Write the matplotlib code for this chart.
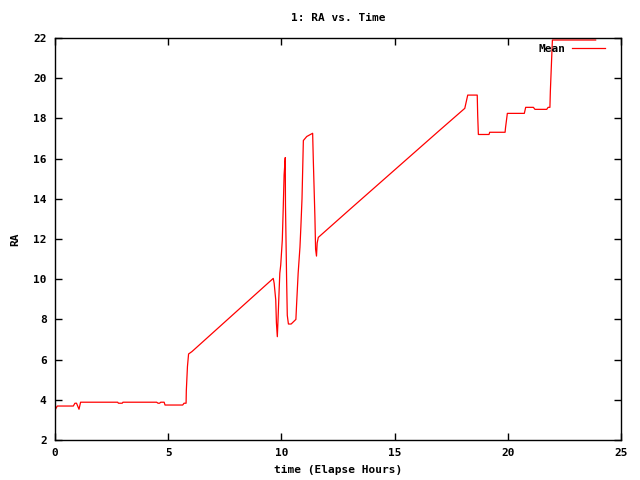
import matplotlib
matplotlib.use("Agg")
import matplotlib.pyplot as plt

# RA (hours) vs elapsed time (hours)
time_h = [0.0, 0.1, 0.81, 0.88, 0.95, 1.06, 1.13, 2.77, 2.8, 2.97, 3.0, 4.49, 4.55, 4.62,
          4.67, 4.82, 4.86, 5.64, 5.7, 5.79, 5.80, 5.85, 5.9, 6.05, 9.64, 9.68, 9.75, 9.78,
          9.82, 9.85, 9.9, 9.93, 9.97, 10.04, 10.08, 10.12, 10.17, 10.18, 10.23, 10.26, 10.31,
          10.43, 10.64, 10.67, 10.74, 10.82, 10.86, 10.91, 10.95, 10.97, 11.12, 11.38, 11.41,
          11.48, 11.51, 11.55, 11.58, 11.63, 13.03, 17.0, 18.1, 18.23, 18.65, 18.67, 18.7,
          19.17, 19.2, 19.88, 19.9, 19.98, 20.73, 20.79, 21.13, 21.2, 21.72, 21.78, 21.86,
          21.88, 21.94, 21.97, 23.88]
ra_mean = [3.49, 3.69, 3.69, 3.83, 3.83, 3.53, 3.88, 3.88, 3.83, 3.83, 3.88, 3.88, 3.83, 3.83,
           3.88, 3.88, 3.74, 3.74, 3.83, 3.83, 4.45, 5.65, 6.28, 6.4, 10.04, 9.8, 8.97, 7.82,
           7.14, 7.97, 9.46, 10.3, 10.7, 11.95, 13.5, 15.2, 16.05, 13.7, 10.0, 8.2, 7.77,
           7.77, 8.0, 8.72, 10.3, 11.6, 12.6, 14.0, 15.93, 16.9, 17.1, 17.26, 15.9,
           13.1, 11.5, 11.15, 11.8, 12.08, 13.48, 17.42, 18.5, 19.16, 19.16, 18.17, 17.2,
           17.2, 17.31, 17.31, 17.54, 18.25, 18.25, 18.55, 18.55, 18.45, 18.45, 18.55, 18.55,
           19.36, 21.07, 21.9, 21.9]
xticks = [0, 5, 10, 15, 20, 25]
yticks = [2, 4, 6, 8, 10, 12, 14, 16, 18, 20, 22]

FONT = dict(family="DejaVu Sans Mono", fontweight="bold", fontsize=8)

fig = plt.figure(figsize=(6.4, 4.8), dpi=100)
ax = fig.add_axes([55 / 640, 1 - 440 / 480, (621 - 55) / 640, (440 - 38) / 480])

ax.plot(time_h, ra_mean, color="#ff0000", lw=0.9, label="Mean")

ax.set_xlim(0, 25)
ax.set_ylim(2, 22)
ax.set_xticks(xticks)
ax.set_yticks(yticks)
ax.tick_params(direction="in", length=5, width=1, top=True, right=True, color="black", pad=6)
for lab in ax.get_xticklabels() + ax.get_yticklabels():
    lab.set_fontfamily("DejaVu Sans Mono")
    lab.set_fontweight("bold")
    lab.set_fontsize(8)
for s in ax.spines.values():
    s.set_linewidth(1)

ax.set_title("1: RA vs. Time", pad=12, **FONT)
ax.set_xlabel("time (Elapse Hours)", labelpad=5, **FONT)
ax.set_ylabel("RA", labelpad=9, **FONT)

leg = ax.legend(loc="upper right", frameon=False, markerfirst=False, handlelength=2.95,
                handletextpad=0.6, borderaxespad=0, bbox_to_anchor=(0.980, 0.997),
                prop=dict(family="DejaVu Sans Mono", weight="bold", size=8))

fig.savefig("out.png", dpi=100, facecolor="white")
